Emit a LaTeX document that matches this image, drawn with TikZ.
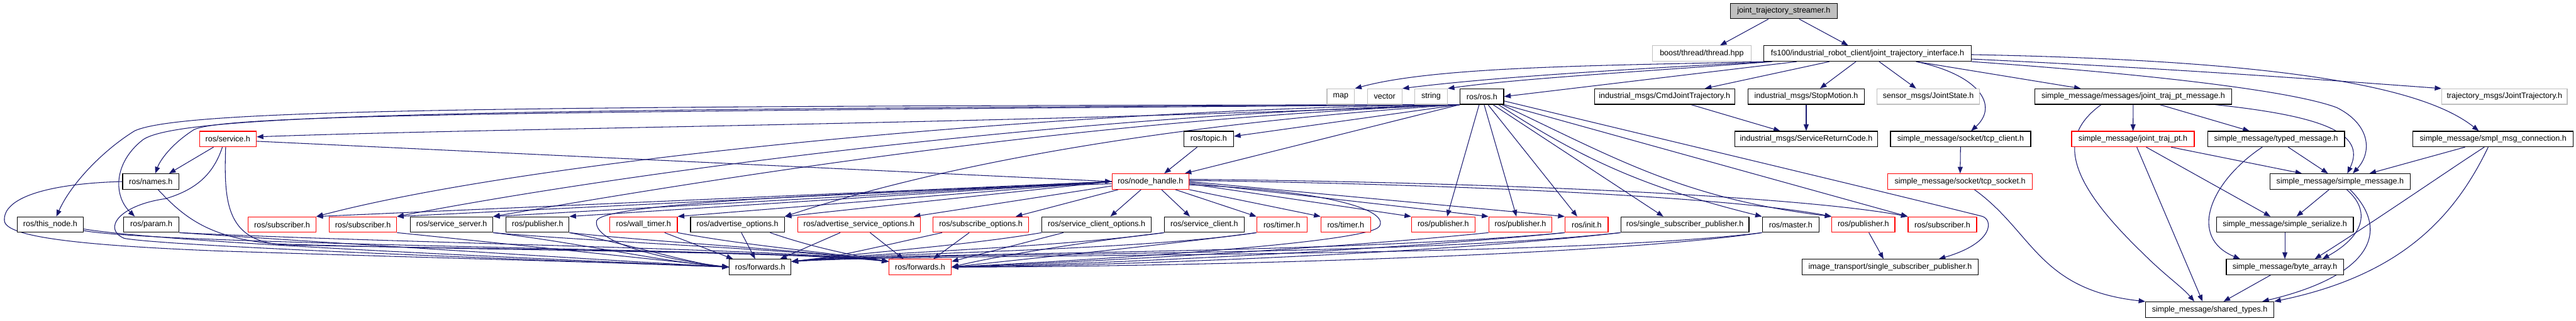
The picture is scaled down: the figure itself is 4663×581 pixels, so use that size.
\documentclass[tikz,border=0pt]{standalone}
\usepackage{fontspec}
\setmainfont{Liberation Sans}
\usetikzlibrary{arrows.meta}
\definecolor{edgec}{HTML}{191970}
\definecolor{grayb}{HTML}{BFBFBF}
\definecolor{redb}{HTML}{FF0000}
\newcommand\fsz{\fontsize{14.3}{16}\selectfont}
\pgfdeclarelayer{background}
\pgfsetlayers{background,main}
\tikzset{
 bx/.style={draw=black, line width=1.3pt, fill=white, minimum height=28pt, inner sep=0pt, font=\fsz, text=black},
 gb/.style={bx, draw=grayb},
 rb/.style={bx, draw=redb},
 rootb/.style={bx, fill=grayb},
 ed/.style={draw=edgec, line width=1.2pt, -{Triangle[length=12pt,width=9pt]}},
}
\begin{document}
\begin{tikzpicture}[x=1pt,y=-1pt]
\useasboundingbox (0,0) rectangle (4663,581);
% row 0
\node[rootb, minimum width=194pt] (jts) at (3229,20) {joint\_trajectory\_streamer.h};
% row 1
\node[gb, minimum width=179pt] (boost) at (3080.5,97) {boost/thread/thread.hpp};
\node[bx, minimum width=375pt] (fs) at (3380.5,97) {fs100/industrial\_robot\_client/joint\_trajectory\_interface.h};
% row 2
\node[gb, minimum width=50pt] (map) at (2427,175) {map};
\node[gb, minimum width=63pt] (vector) at (2506.5,175) {vector};
\node[gb, minimum width=59pt] (string) at (2590.5,175) {string};
\node[bx, minimum width=79pt] (ros) at (2682.5,175) {ros/ros.h};
\node[bx, minimum width=254pt] (cmd) at (3013,175) {industrial\_msgs/CmdJointTrajectory.h};
\node[bx, minimum width=211pt] (stop) at (3269.5,175) {industrial\_msgs/StopMotion.h};
\node[gb, minimum width=185pt] (js) at (3490.5,175) {sensor\_msgs/JointState.h};
\node[bx, minimum width=357pt] (jtpm) at (3861.5,175) {simple\_message/messages/joint\_traj\_pt\_message.h};
\node[gb, minimum width=227pt] (tm) at (4533.5,175) {trajectory\_msgs/JointTrajectory.h};
% row 3
\node[rb, minimum width=103pt] (service) at (412.5,252) {ros/service.h};
\node[bx, minimum width=90pt] (topic) at (2188,252) {ros/topic.h};
\node[bx, minimum width=259pt] (src) at (3269.5,252) {industrial\_msgs/ServiceReturnCode.h};
\node[bx, minimum width=254pt] (tcpc) at (3549,252) {simple\_message/socket/tcp\_client.h};
\node[rb, minimum width=222pt] (jtp) at (3861,252) {simple\_message/joint\_traj\_pt.h};
\node[bx, minimum width=248pt] (typed) at (4120,252) {simple\_message/typed\_message.h};
\node[bx, minimum width=290pt] (conn) at (4513,252) {simple\_message/smpl\_msg\_connection.h};
% row 4
\node[bx, minimum width=102pt] (names) at (273,329) {ros/names.h};
\node[rb, minimum width=139pt] (nh) at (2082.5,329) {ros/node\_handle.h};
\node[rb, minimum width=262pt] (tcps) at (3548,329) {simple\_message/socket/tcp\_socket.h};
\node[bx, minimum width=254pt] (sm) at (4236,329) {simple\_message/simple\_message.h};
% row 5
\node[bx, minimum width=120pt] (thisnode) at (91,407) {ros/this\_node.h};
\node[bx, minimum width=100pt] (param) at (274,407) {ros/param.h};
\node[rb, minimum width=123pt] (subA) at (510.5,407) {ros/subscriber.h};
\node[rb, minimum width=122pt] (subB) at (657,407) {ros/subscriber.h};
\node[bx, minimum width=149pt] (srvsrv) at (817.5,407) {ros/service\_server.h};
\node[bx, minimum width=114pt] (pubK) at (973,407) {ros/publisher.h};
\node[rb, minimum width=122pt] (wt) at (1165,407) {ros/wall\_timer.h};
\node[bx, minimum width=170pt] (ao) at (1335,407) {ros/advertise\_options.h};
\node[rb, minimum width=222pt] (aso) at (1555,407) {ros/advertise\_service\_options.h};
\node[rb, minimum width=173pt] (so) at (1775.5,407) {ros/subscribe\_options.h};
\node[bx, minimum width=198pt] (sco) at (1985,407) {ros/service\_client\_options.h};
\node[bx, minimum width=144pt] (sc) at (2180,407) {ros/service\_client.h};
\node[rb, minimum width=91pt] (timA) at (2320.5,407) {ros/timer.h};
\node[rb, minimum width=90pt] (timB) at (2436,407) {ros/timer.h};
\node[rb, minimum width=115pt] (pubA) at (2612.5,407) {ros/publisher.h};
\node[rb, minimum width=114pt] (pubB) at (2752,407) {ros/publisher.h};
\node[rb, minimum width=78pt] (init) at (2872,407) {ros/init.h};
\node[bx, minimum width=232pt] (ssp) at (3050,407) {ros/single\_subscriber\_publisher.h};
\node[bx, minimum width=103pt] (master) at (3241.5,407) {ros/master.h};
\node[rb, minimum width=114pt] (pubC) at (3373,407) {ros/publisher.h};
\node[rb, minimum width=124pt] (subC) at (3516,407) {ros/subscriber.h};
\node[bx, minimum width=248pt] (ser) at (4136,407) {simple\_message/simple\_serialize.h};
% row 6
\node[bx, minimum width=112pt] (fwdK) at (1376,484) {ros/forwards.h};
\node[rb, minimum width=113pt] (fwdR) at (1665.5,484) {ros/forwards.h};
\node[bx, minimum width=319pt] (img) at (3421.5,484) {image\_transport/single\_subscriber\_publisher.h};
\node[bx, minimum width=212pt] (ba) at (4136,484) {simple\_message/byte\_array.h};
% row 7
\node[bx, minimum width=232pt] (st) at (4000,561) {simple\_message/shared\_types.h};

\begin{pgfonlayer}{background}
% top
\draw[ed] ([xshift=-28pt]jts.south) -- ([xshift=33pt]boost.north);
\draw[ed] ([xshift=28pt]jts.south) -- ([xshift=-35pt]fs.north);
\draw[ed] ([xshift=8pt]fs.south west) .. controls (2900,119) and (2600,120) .. (map.north east);
\draw[ed] ([xshift=12pt]fs.south west) .. controls (2950,125) and (2700,140) .. (vector.north east);
\draw[ed] ([xshift=16pt]fs.south west) .. controls (3000,128) and (2750,142) .. (string.north east);
\draw[ed] ([xshift=-128pt]fs.south) -- (ros.east);
\draw[ed] ([xshift=-69pt]fs.south) -- ([xshift=73pt]cmd.north);
\draw[ed] ([xshift=-21pt]fs.south) -- ([xshift=25pt]stop.north);
\draw[ed] ([xshift=21pt]fs.south) -- ([xshift=-22pt]js.north);
\draw[ed] ([xshift=88pt]fs.south) .. controls (3580,135) and (3620,190) .. ([xshift=19pt]tcpc.north);
\draw[ed] ([xshift=88pt]fs.south) -- ([xshift=-95pt]jtpm.north);
\draw[ed] ([yshift=-10pt]fs.east) .. controls (3950,125) and (4250,148) .. (tm.north west);
\draw[ed] ([yshift=-2pt]fs.east) .. controls (4150,110) and (4390,160) .. ([xshift=-26pt]conn.north);
\draw[ed] (fs.south east) .. controls (3900,135) and (4150,165) .. (4230,195) .. controls (4290,225) and (4295,275) .. ([xshift=23pt]sm.north);
% right cluster
\draw[ed] ([xshift=48pt]cmd.south) -- ([xshift=-47pt]src.north);
\draw[ed] (stop) -- (src);
\draw[ed] (tcpc) -- (tcps);
\draw[ed] (jtpm) -- (jtp);
\draw[ed] ([xshift=48pt]jtpm.south) -- ([xshift=-48pt]typed.north);
\draw[ed] ([xshift=148pt]jtpm.south) .. controls (4200,210) and (4285,240) .. ([xshift=13pt]sm.north);
\draw[ed] ([xshift=-58pt]jtpm.south) .. controls (3720,250) and (3745,330) .. (3880,460) .. controls (3920,500) and (3950,520) .. ([xshift=-28pt]st.north);
\draw[ed] ([xshift=7pt]jtp.south) -- ([xshift=-13pt]st.north);
\draw[ed] ([xshift=24pt]jtp.south) -- ([xshift=-26pt]ser.north);
\draw[ed] ([xshift=69pt]jtp.south) -- ([xshift=-69pt]sm.north);
\draw[ed] ([xshift=-25pt]typed.south) .. controls (4000,330) and (3960,430) .. ([xshift=-81pt]ba.north);
\draw[ed] ([xshift=22pt]typed.south) -- ([xshift=-22pt]sm.north);
\draw[ed] ([xshift=-51pt]conn.south) -- ([xshift=53pt]sm.north);
\draw[ed] ([xshift=-16pt]conn.south) .. controls (4430,310) and (4300,400) .. ([xshift=54pt]ba.north);
\draw[ed] ([xshift=-9pt]conn.south) .. controls (4440,400) and (4340,500) .. (st.north east);
\draw[ed] ([xshift=-20pt]sm.south) -- ([xshift=21pt]ser.north);
\draw[ed] ([xshift=12pt]sm.south) .. controls (4295,385) and (4275,430) .. ([xshift=68pt]ba.north);
\draw[ed] ([xshift=18pt]sm.south) .. controls (4330,420) and (4290,500) .. ([xshift=95pt]st.north);
\draw[ed] (ser) -- (ba);
\draw[ed] ([xshift=-26pt]ba.south) -- ([xshift=25pt]st.north);
\draw[ed] ([xshift=26pt]tcps.south) .. controls (3680,420) and (3690,525) .. (st.north west);
% ros/ros.h
\draw[ed] (ros.south west) .. controls (1800,225) and (900,232) .. ([yshift=4pt]service.east);
\draw[ed] (ros.south west) -- ([yshift=5pt]topic.east);
\draw[ed] (ros.south west) -- ([xshift=62pt]nh.north);
\draw[ed] ([xshift=-21pt]topic.south) -- ([xshift=25pt]nh.north);
\draw[ed] (ros.south west) .. controls (900,203) and (380,208) .. (348,237) .. controls (310,262) and (290,290) .. ([xshift=8pt]names.north);
\draw[ed] (ros.south west) .. controls (900,198) and (330,205) .. (259,253) .. controls (205,295) and (205,355) .. ([xshift=-30pt]param.north);
\draw[ed] (ros.south west) .. controls (900,192) and (330,198) .. (244,237) .. controls (190,270) and (130,330) .. ([xshift=11pt]thisnode.north);
\draw[ed] (ros.south west) .. controls (2000,195) and (1000,280) .. (subA.north east);
\draw[ed] (ros.south west) .. controls (2000,205) and (1200,300) .. (subB.north east);
\draw[ed] (ros.south west) .. controls (2000,215) and (1400,305) .. (srvsrv.north east);
\draw[ed] (ros.south west) .. controls (2100,225) and (1700,300) .. (ao.north east);
\draw[ed] ([xshift=-5pt]ros.south) -- ([xshift=7pt]pubA.north);
\draw[ed] ([xshift=4pt]ros.south) -- ([xshift=-7pt]pubB.north);
\draw[ed] ([xshift=11pt]ros.south) -- ([xshift=-17pt]init.north);
\draw[ed] ([xshift=20pt]ros.south) -- ([xshift=-39pt]ssp.north);
\draw[ed] ([xshift=30pt]ros.south) .. controls (2880,300) and (3000,345) .. (master.north west);
\draw[ed] ([xshift=36pt]ros.south) .. controls (2930,290) and (3050,360) .. (pubC.north west);
\draw[ed] (ros.south east) -- (subC.north west);
\draw[ed] ([yshift=-8pt]ros.east) .. controls (3000,250) and (3400,345) .. (3588,392) .. controls (3608,398) and (3610,440) .. ([xshift=88pt]img.north);
\draw[ed] ([xshift=10pt]pubC.south) -- ([xshift=-12pt]img.north);
% ros/service.h and ros/names.h
\draw[ed] ([yshift=-4pt]service.east) -- (nh.west);
\draw[ed] ([xshift=-26pt]service.south) -- ([xshift=33pt]names.north);
\draw[ed] ([xshift=-10pt]service.south) .. controls (385,320) and (350,345) .. (300,360) .. controls (215,372) and (185,415) .. (225,432) .. controls (300,445) and (800,465) .. (fwdK.west);
\draw[ed] ([xshift=-4pt]service.south) .. controls (405,370) and (410,440) .. (520,444) .. controls (900,452) and (1450,455) .. (fwdR.170);
\draw[ed] (names.west) .. controls (80,333) and (5,360) .. (8,400) .. controls (10,430) and (150,445) .. (400,455) .. controls (800,468) and (1200,478) .. (fwdK.west);
\draw[ed] ([xshift=13pt]names.south) .. controls (330,390) and (375,432) .. (500,442) .. controls (900,455) and (1420,455) .. (fwdR.170);
% to forwards from the left
\draw[ed] ([yshift=-8pt]thisnode.east) .. controls (300,440) and (1000,470) .. (fwdK.west);
\draw[ed] ([yshift=-11pt]thisnode.east) .. controls (300,445) and (1450,452) .. (fwdR.170);
\draw[ed] (param.south east) .. controls (600,440) and (1100,472) .. (fwdK.west);
\draw[ed] (param.south east) .. controls (700,440) and (1450,452) .. (fwdR.170);
\draw[ed] (subB.south east) .. controls (900,440) and (1200,472) .. (fwdK.west);
\draw[ed] (srvsrv.south east) .. controls (1050,440) and (1200,475) .. (fwdK.west);
\draw[ed] (srvsrv.south east) .. controls (1100,440) and (1450,452) .. (fwdR.170);
\draw[ed] (pubK.south east) .. controls (1150,445) and (1250,478) .. (fwdK.west);
\draw[ed] (pubK.south east) .. controls (1200,440) and (1450,452) .. (fwdR.170);
\draw[ed] ([xshift=38pt]wt.south) -- ([xshift=-49pt]fwdK.north);
\draw[ed] (wt.south east) .. controls (1350,445) and (1480,455) .. (fwdR.170);
\draw[ed] ([xshift=7pt]ao.south) -- ([xshift=-9pt]fwdK.north);
\draw[ed] ([xshift=59pt]ao.south) .. controls (1470,448) and (1540,462) .. (fwdR.170);
\draw[ed] ([xshift=-34pt]aso.south) -- ([xshift=36pt]fwdK.north);
\draw[ed] ([xshift=20pt]aso.south) -- ([xshift=-30pt]fwdR.north);
\draw[ed] ([xshift=-21pt]so.south) -- ([xshift=24pt]fwdR.north);
% to forwards from the right
\draw[ed] ([xshift=-70pt]so.south) .. controls (1620,440) and (1500,470) .. (fwdK.10);
\draw[ed] ([xshift=-60pt]sco.south) -- (fwdR.10);
\draw[ed] (sco.south west) .. controls (1750,445) and (1560,458) .. (fwdK.10);
\draw[ed] (sc.south west) .. controls (1950,440) and (1800,465) .. (fwdR.east);
\draw[ed] (sc.south west) .. controls (1900,450) and (1580,458) .. (fwdK.10);
\draw[ed] (timA.south west) .. controls (2100,445) and (1850,470) .. (fwdR.east);
\draw[ed] (timA.south west) .. controls (2050,455) and (1600,458) .. (fwdK.10);
\draw[ed] (pubB.south west) .. controls (2400,452) and (1900,478) .. (fwdR.east);
\draw[ed] (init.south west) .. controls (2500,455) and (1950,480) .. (fwdR.east);
\draw[ed] (init.south west) .. controls (2400,462) and (1650,456) .. (fwdK.10);
\draw[ed] (ssp.south west) .. controls (2600,460) and (2000,482) .. (fwdR.east);
\draw[ed] (ssp.south west) .. controls (2500,468) and (1700,455) .. (fwdK.10);
\draw[ed] (master.south west) .. controls (2800,470) and (1700,458) .. (fwdK.10);
\draw[ed] (master.south west) .. controls (2900,465) and (2100,484) .. (fwdR.east);
% ros/node_handle.h
\draw[ed] (nh.west) -- (subA.north east);
\draw[ed] (nh.west) -- (subB.north east);
\draw[ed] (nh.west) -- (srvsrv.north east);
\draw[ed] (nh.west) -- (pubK.north east);
\draw[ed] (nh.west) -- (wt.north east);
\draw[ed] (nh.west) -- (ao.north east);
\draw[ed] ([yshift=-8pt]nh.west) -- ([xshift=99pt]aso.north);
\draw[ed] ([xshift=12pt]nh.south west) -- ([xshift=63pt]so.north);
\draw[ed] ([xshift=-17pt]nh.south) -- ([xshift=25pt]sco.north);
\draw[ed] ([xshift=20pt]nh.south) -- ([xshift=-26pt]sc.north);
\draw[ed] ([xshift=45pt]nh.south) -- (timA.north west);
\draw[ed] (nh.south east) -- (timB.north west);
\draw[ed] ([yshift=-4pt]nh.east) -- (pubA.north west);
\draw[ed] ([yshift=-2pt]nh.east) -- (pubB.north west);
\draw[ed] (nh.east) -- (init.north west);
\draw[ed] ([yshift=2pt]nh.east) .. controls (2700,335) and (3150,360) .. (pubC.north west);
\draw[ed] ([yshift=4pt]nh.east) .. controls (2700,330) and (3250,355) .. (subC.north west);
\draw[ed] ([yshift=-4pt]nh.west) .. controls (1500,350) and (1090,370) .. (1080,400) .. controls (1072,440) and (1200,470) .. (fwdK.west);
\draw[ed] ([yshift=-6pt]nh.east) .. controls (2400,345) and (2515,380) .. (2497,410) .. controls (2480,440) and (2000,470) .. (fwdR.east);
\end{pgfonlayer}
\end{tikzpicture}
\end{document}
